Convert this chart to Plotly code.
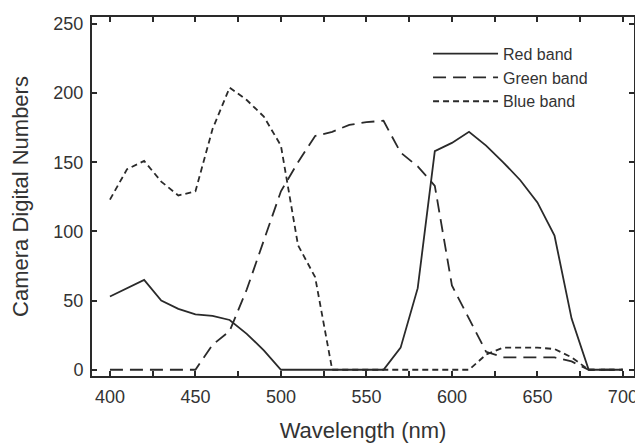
import plotly.graph_objects as go

wavelength = [400, 410, 420, 430, 440, 450, 460, 470, 480, 490, 500, 510, 520, 530, 540, 550,
              560, 570, 580, 590, 600, 610, 620, 630, 640, 650, 660, 670, 680, 690, 700]
red_band = [53, 59, 65, 50, 44, 40, 39, 36, 26, 14, 0, 0, 0, 0, 0, 0,
            0, 16, 59, 158, 164, 172, 162, 150, 137, 121, 97, 37, 0, 0, 0]
green_band = [0, 0, 0, 0, 0, 0, 18, 28, 58, 93, 129, 150, 169, 172, 177, 179,
              180, 157, 147, 133, 61, 37, 13, 9, 9, 9, 9, 6, 0, 0, 0]
blue_band = [123, 145, 151, 136, 126, 129, 174, 204, 195, 183, 162, 90, 67, 0, 0, 0,
             0, 0, 0, 0, 0, 0, 11, 16, 16, 16, 15, 9, 0, 0, 0]

x_tickvals = [400, 425, 450, 475, 500, 525, 550, 575, 600, 625, 650, 675, 700]
x_ticktext = ["400", "", "450", "", "500", "", "550", "", "600", "", "650", "", "700"]
y_tickvals = [0, 50, 100, 150, 200, 250]

ink = "#2a2a2a"
font_family = "Liberation Sans, Arial, sans-serif"

fig = go.Figure()
fig.add_trace(go.Scatter(x=wavelength, y=red_band, mode="lines", name="Red band",
                         line=dict(color=ink, width=1.8, dash="solid")))
fig.add_trace(go.Scatter(x=wavelength, y=green_band, mode="lines", name="Green band",
                         line=dict(color=ink, width=1.8, dash="13px,7px")))
fig.add_trace(go.Scatter(x=wavelength, y=blue_band, mode="lines", name="Blue band",
                         line=dict(color=ink, width=1.8, dash="6px,4px")))

axis_common = dict(showgrid=False, zeroline=False, showline=True, linecolor=ink, linewidth=2,
                   mirror="ticks", ticks="inside", ticklen=5, tickwidth=1.5, tickcolor=ink,
                   tickfont=dict(family=font_family, size=18, color="#333"))

fig.update_xaxes(range=[389.5, 706.5], tickmode="array", tickvals=x_tickvals, ticktext=x_ticktext,
                 ticklabelstandoff=3,
                 title=dict(text="Wavelength (nm)", font=dict(family=font_family, size=22, color="#333"),
                            standoff=17),
                 **axis_common)
fig.update_yaxes(range=[-4.5, 255], tickmode="array", tickvals=y_tickvals,
                 ticklabelstandoff=3,
                 title=dict(text="Camera Digital Numbers", font=dict(family=font_family, size=22, color="#333"),
                            standoff=19),
                 **axis_common)

# The page body has an 8px default margin, so the figure is sized to fill the rest of the window.
fig.update_layout(
    width=635, height=436,
    margin=dict(l=84, r=5, t=9, b=66),
    paper_bgcolor="white", plot_bgcolor="white",
    showlegend=True,
    legend=dict(x=0.62, y=0.945, xanchor="left", yanchor="top", bgcolor="rgba(0,0,0,0)",
                font=dict(family=font_family, size=16, color="#333"), itemwidth=65,
                tracegroupgap=0),
)

fig.write_html("out.html")
